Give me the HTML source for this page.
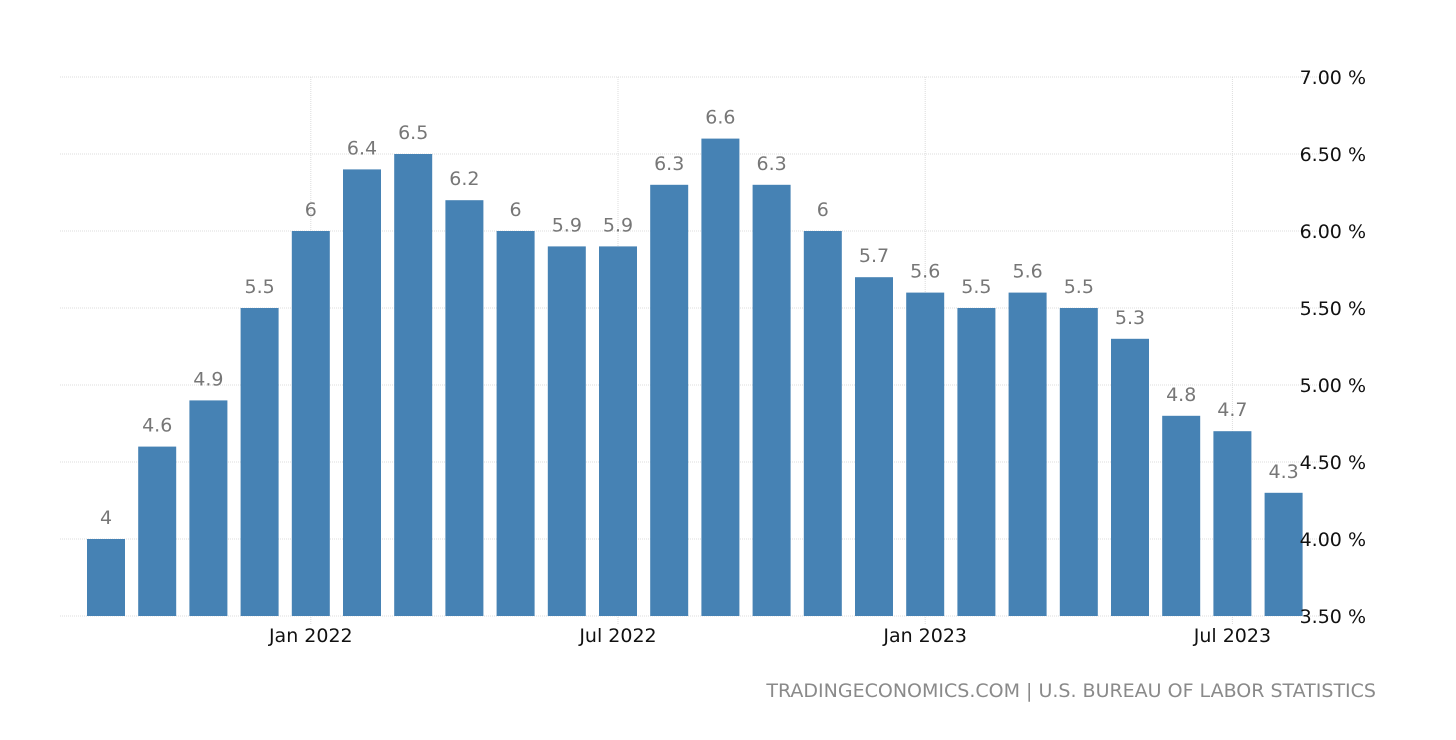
<!DOCTYPE html>
<html><head><meta charset="utf-8"><style>
body{margin:0;background:#fff;}
svg text{font-family:"DejaVu Sans","Liberation Sans",sans-serif;}
</style></head><body>
<svg id="chart" width="1456" height="735" viewBox="0 0 1456 735" xmlns="http://www.w3.org/2000/svg">
<rect x="0" y="0" width="1456" height="735" fill="#fff"/>
<g id="grid"></g><g id="bars"></g><g id="labels"></g><g id="axis"></g>
<text x="1376" y="697" text-anchor="end" font-size="19" fill="#8a8a8a">TRADINGECONOMICS.COM | U.S. BUREAU OF LABOR STATISTICS</text>
</svg>
<script>
const values=[4,4.6,4.9,5.5,6,6.4,6.5,6.2,6,5.9,5.9,6.3,6.6,6.3,6,5.7,5.6,5.5,5.6,5.5,5.3,4.8,4.7,4.3];
const yTicks=[3.5,4,4.5,5,5.5,6,6.5,7];
const xTickIdx=[4,10,16,22];
const xTickLabels=["Jan 2022","Jul 2022","Jan 2023","Jul 2023"];
const NS="http://www.w3.org/2000/svg";
const y=v=>616-(v-3.5)*154;
const x=i=>106+i*51.2;
function mk(t,a,p){const e=document.createElementNS(NS,t);for(const k in a)e.setAttribute(k,a[k]);document.getElementById(p).appendChild(e);return e;}
yTicks.forEach(v=>{
 const l=mk('line',{x1:60,x2:1332,y1:y(v),y2:y(v),stroke:'#dcdcdc','stroke-dasharray':'1,1'},'grid');
 
 
 const t=mk('text',{x:1366,y:y(v)+7,'text-anchor':'end','font-size':'19',fill:'#111'},'axis');
 t.textContent=v.toFixed(2)+' %';
 
 
});
xTickIdx.forEach((i,k)=>{
 const l=mk('line',{x1:x(i),x2:x(i),y1:77,y2:625,stroke:'#dcdcdc','stroke-dasharray':'1,1'},'grid');
 
 
 const t=mk('text',{x:x(i),y:642,'text-anchor':'middle','font-size':'19',fill:'#111'},'axis');
 t.textContent=xTickLabels[k];
 
 
});
values.forEach((v,i)=>{
 const r=mk('rect',{x:x(i)-19,y:y(v),width:38,height:616-y(v),fill:'#4682b4'},'bars');
 
 
 const t=mk('text',{x:x(i),y:y(v)-15,'text-anchor':'middle','font-size':'19',fill:'#777'},'labels');
 t.textContent=String(v);
 
 
});
</script>
</body></html>
